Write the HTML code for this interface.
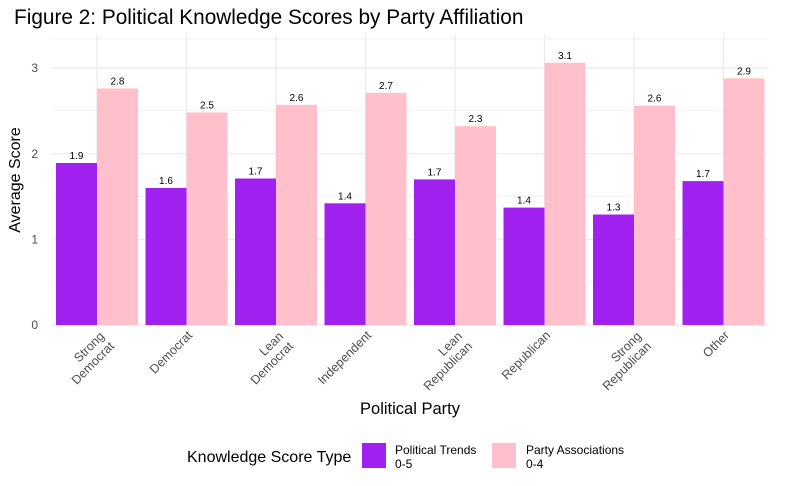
<!DOCTYPE html>
<html><head><style>body{margin:0;background:#fff}svg{display:block;font-family:"Liberation Sans",sans-serif}</style></head><body>
<svg width="787" height="486" viewBox="0 0 787 486">
<text x="14" y="24" font-size="20.8" fill="#000">Figure 2: Political Knowledge Scores by Party Affiliation</text>
<g stroke="#f3f3f3" stroke-width="1">
<line x1="52" x2="768" y1="282.2" y2="282.2"/><line x1="52" x2="768" y1="196.5" y2="196.5"/><line x1="52" x2="768" y1="110.8" y2="110.8"/><line x1="52" x2="768" y1="39" y2="39"/>
</g>
<g stroke="#ebebeb" stroke-width="1.2">
<line x1="52" x2="768" y1="325" y2="325"/><line x1="52" x2="768" y1="239.3" y2="239.3"/><line x1="52" x2="768" y1="153.7" y2="153.7"/><line x1="52" x2="768" y1="68" y2="68"/>
<line x1="97" x2="97" y1="35" y2="325"/><line x1="186.5" x2="186.5" y1="35" y2="325"/><line x1="276" x2="276" y1="35" y2="325"/><line x1="365.5" x2="365.5" y1="35" y2="325"/><line x1="455" x2="455" y1="35" y2="325"/><line x1="544.5" x2="544.5" y1="35" y2="325"/><line x1="634" x2="634" y1="35" y2="325"/><line x1="723.5" x2="723.5" y1="35" y2="325"/>
</g>
<g font-size="12" fill="#4d4d4d" text-anchor="end">
<text x="38" y="329">0</text><text x="38" y="243.5">1</text><text x="38" y="158">2</text><text x="38" y="72">3</text>
</g>
<g>
<rect x="56" y="163" width="41" height="162" fill="#A020F0"/><rect x="97" y="88.5" width="41" height="236.5" fill="#FFC0CB"/>
<rect x="145.5" y="188" width="41" height="137" fill="#A020F0"/><rect x="186.5" y="112.5" width="41" height="212.5" fill="#FFC0CB"/>
<rect x="235" y="178.5" width="41" height="146.5" fill="#A020F0"/><rect x="276" y="104.8" width="41" height="220.2" fill="#FFC0CB"/>
<rect x="324.5" y="203.3" width="41" height="121.7" fill="#A020F0"/><rect x="365.5" y="92.8" width="41" height="232.2" fill="#FFC0CB"/>
<rect x="414" y="179.4" width="41" height="145.6" fill="#A020F0"/><rect x="455" y="126.2" width="41" height="198.8" fill="#FFC0CB"/>
<rect x="503.5" y="207.6" width="41" height="117.4" fill="#A020F0"/><rect x="544.5" y="62.8" width="41" height="262.2" fill="#FFC0CB"/>
<rect x="593" y="214.5" width="41" height="110.5" fill="#A020F0"/><rect x="634" y="105.7" width="41" height="219.3" fill="#FFC0CB"/>
<rect x="682.5" y="181.1" width="41" height="143.9" fill="#A020F0"/><rect x="723.5" y="78.3" width="41" height="246.7" fill="#FFC0CB"/>
</g>
<g font-size="10" fill="#000" text-anchor="middle">
<text x="76.5" y="159">1.9</text><text x="117.5" y="84.5">2.8</text>
<text x="166" y="184">1.6</text><text x="207" y="108.5">2.5</text>
<text x="255.5" y="174.5">1.7</text><text x="296.5" y="100.8">2.6</text>
<text x="345" y="199.3">1.4</text><text x="386" y="88.8">2.7</text>
<text x="434.5" y="175.4">1.7</text><text x="475.5" y="122.2">2.3</text>
<text x="524" y="203.6">1.4</text><text x="565" y="58.8">3.1</text>
<text x="613.5" y="210.5">1.3</text><text x="654.5" y="101.7">2.6</text>
<text x="703" y="177.1">1.7</text><text x="744" y="74.3">2.9</text>
</g>
<g font-size="12.5" fill="#4d4d4d" text-anchor="end">
<text transform="translate(105,337) rotate(-45)"><tspan x="0" dy="0">Strong</tspan><tspan x="0" dy="14">Democrat</tspan></text>
<text transform="translate(193,336) rotate(-45)">Democrat</text>
<text transform="translate(284,337) rotate(-45)"><tspan x="0" dy="0">Lean</tspan><tspan x="0" dy="14">Democrat</tspan></text>
<text transform="translate(372,336) rotate(-45)">Independent</text>
<text transform="translate(463,337) rotate(-45)"><tspan x="0" dy="0">Lean</tspan><tspan x="0" dy="14">Republican</tspan></text>
<text transform="translate(551,336) rotate(-45)">Republican</text>
<text transform="translate(642,337) rotate(-45)"><tspan x="0" dy="0">Strong</tspan><tspan x="0" dy="14">Republican</tspan></text>
<text transform="translate(730,336) rotate(-45)">Other</text>
</g>
<text x="410" y="414" font-size="16.5" text-anchor="middle">Political Party</text>
<text transform="translate(20,180) rotate(-90)" font-size="16" text-anchor="middle">Average Score</text>
<text x="187" y="462" font-size="16">Knowledge Score Type</text>
<rect x="362" y="443" width="24" height="25" fill="#A020F0"/>
<text x="395" y="454" font-size="12"><tspan x="395">Political Trends</tspan><tspan x="395" dy="14">0-5</tspan></text>
<rect x="492" y="443" width="24" height="25" fill="#FFC0CB"/>
<text x="526" y="454" font-size="12"><tspan x="526">Party Associations</tspan><tspan x="526" dy="14">0-4</tspan></text>
</svg>
</body></html>
